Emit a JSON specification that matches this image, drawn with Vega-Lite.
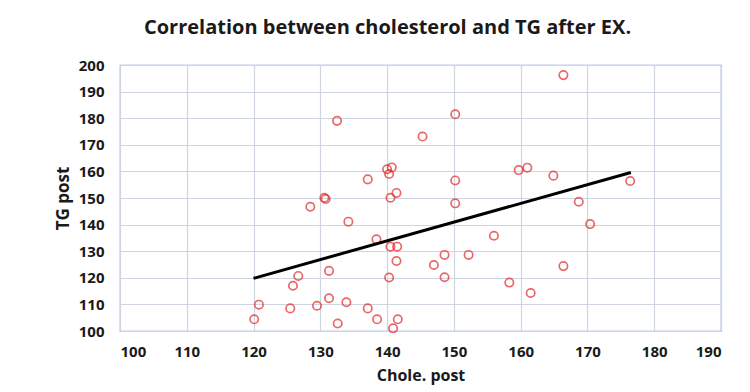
{
  "$schema": "https://vega.github.io/schema/vega-lite/v6.json",
  "autosize": "none",
  "width": 601,
  "height": 266,
  "padding": {"left": 120, "top": 65, "right": 29, "bottom": 61},
  "background": "white",
  "title": {
    "text": "Correlation between cholesterol and TG after EX.",
    "font": "Open Sans",
    "fontSize": 20,
    "fontWeight": "bold",
    "color": "#1a1a1a",
    "anchor": "middle",
    "dx": -33,
    "offset": 20
  },
  "config": {
    "view": {"stroke": "#7f9fd4", "strokeWidth": 1.2},
    "axis": {
      "grid": true,
      "gridColor": "#cfd5e0",
      "gridWidth": 1.2,
      "domain": false,
      "ticks": false,
      "labelFont": "Open Sans",
      "labelFontSize": 15,
      "labelFontWeight": "bold",
      "labelColor": "#1a1a1a",
      "titleFont": "Open Sans",
      "titleFontWeight": "bold",
      "titleColor": "#1a1a1a"
    }
  },
  "datasets": {
    "pts": [
      {"chole": 132.5, "tg": 179.0},
      {"chole": 145.3, "tg": 173.1},
      {"chole": 140.0, "tg": 160.8},
      {"chole": 140.7, "tg": 161.5},
      {"chole": 140.3, "tg": 159.0},
      {"chole": 137.1, "tg": 157.0},
      {"chole": 130.6, "tg": 150.1},
      {"chole": 130.8, "tg": 149.6},
      {"chole": 128.5, "tg": 146.7},
      {"chole": 140.5, "tg": 150.1},
      {"chole": 141.4, "tg": 151.9},
      {"chole": 134.2, "tg": 141.1},
      {"chole": 138.4, "tg": 134.5},
      {"chole": 140.5, "tg": 131.7},
      {"chole": 141.5, "tg": 131.7},
      {"chole": 141.4, "tg": 126.3},
      {"chole": 131.3, "tg": 122.6},
      {"chole": 126.7, "tg": 120.7},
      {"chole": 125.9, "tg": 117.0},
      {"chole": 140.3, "tg": 120.1},
      {"chole": 120.8, "tg": 109.9},
      {"chole": 120.1, "tg": 104.4},
      {"chole": 125.5, "tg": 108.5},
      {"chole": 129.5, "tg": 109.5},
      {"chole": 131.3, "tg": 112.3},
      {"chole": 133.9, "tg": 110.8},
      {"chole": 137.1, "tg": 108.5},
      {"chole": 138.5, "tg": 104.4},
      {"chole": 132.6, "tg": 102.8},
      {"chole": 141.6, "tg": 104.4},
      {"chole": 140.9, "tg": 101.0},
      {"chole": 166.4, "tg": 196.2},
      {"chole": 150.2, "tg": 181.5},
      {"chole": 159.7, "tg": 160.5},
      {"chole": 161.0, "tg": 161.4},
      {"chole": 164.9, "tg": 158.4},
      {"chole": 150.2, "tg": 156.6},
      {"chole": 176.4, "tg": 156.4},
      {"chole": 150.2, "tg": 148.0},
      {"chole": 168.7, "tg": 148.6},
      {"chole": 170.4, "tg": 140.2},
      {"chole": 156.0, "tg": 135.8},
      {"chole": 148.6, "tg": 128.6},
      {"chole": 152.2, "tg": 128.6},
      {"chole": 147.0, "tg": 124.8},
      {"chole": 148.6, "tg": 120.2},
      {"chole": 166.4, "tg": 124.4},
      {"chole": 158.3, "tg": 118.2},
      {"chole": 161.5, "tg": 114.3}
    ],
    "trend": [
      {"chole": 120.0, "tg": 119.8},
      {"chole": 176.5, "tg": 159.6}
    ]
  },
  "encoding": {
    "x": {
      "field": "chole",
      "type": "quantitative",
      "scale": {"domain": [100, 190], "nice": false, "zero": false},
      "axis": {"values": [100, 110, 120, 130, 140, 150, 160, 170, 180, 190], "title": "Chole. post", "titleFontSize": 16, "labelPadding": 13, "titlePadding": 8}
    },
    "y": {
      "field": "tg",
      "type": "quantitative",
      "scale": {"domain": [100, 200], "nice": false, "zero": false},
      "axis": {"values": [100, 110, 120, 130, 140, 150, 160, 170, 180, 190, 200], "title": "TG post", "titleFontSize": 17, "labelPadding": 16, "titlePadding": 6}
    }
  },
  "layer": [
    {
      "data": {"name": "pts"},
      "mark": {"type": "point", "shape": "circle", "filled": false, "color": "#e0282a", "size": 70, "strokeWidth": 1.7}
    },
    {
      "data": {"name": "trend"},
      "mark": {"type": "line", "color": "#000000", "strokeWidth": 3}
    }
  ]
}
